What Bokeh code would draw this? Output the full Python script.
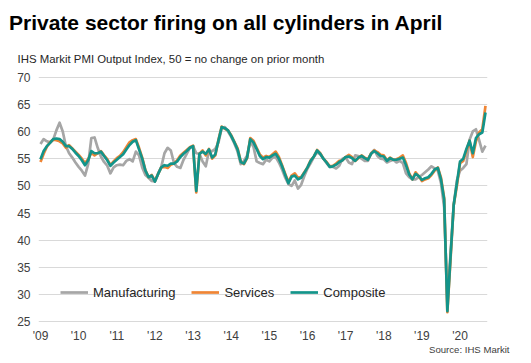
from bokeh.plotting import figure
from bokeh.models import (Range1d, FixedTicker, Title, Legend, LegendItem, ColumnDataSource)
from bokeh.embed import file_html
from bokeh.resources import INLINE

# Monthly PMI output index readings (first point aligned with the '09 tick)
composite = [54.9, 56.4, 57.3, 57.9, 58.6, 58.7, 58.6, 58.1, 57.3, 57.3,
             56.8, 56.1, 55.5, 54.7, 53.8, 54.7, 56.4, 56.0, 56.0, 56.3,
             55.5, 54.7, 53.7, 54.3, 54.8, 55.3, 55.8, 56.7, 57.5, 58.1,
             58.4, 56.7, 55.0, 52.8, 51.6, 51.9, 50.8, 52.2, 53.4, 53.8,
             53.7, 54.1, 54.1, 54.5, 55.3, 55.9, 56.4, 57.0, 57.3, 49.1,
             55.9, 56.3, 55.9, 56.7, 55.2, 55.8, 58.4, 60.8, 60.6, 60.2,
             59.2, 58.0, 56.7, 54.4, 54.1, 55.2, 58.6, 58.0, 56.8, 55.5,
             54.9, 55.3, 55.2, 55.6, 55.9, 55.0, 53.6, 52.0, 50.5, 51.7,
             51.9, 51.2, 51.5, 52.4, 53.4, 54.6, 55.4, 56.5, 55.9, 55.0,
             54.3, 53.5, 53.6, 53.9, 54.4, 54.7, 55.3, 55.4, 55.1, 54.6,
             55.2, 55.5, 55.1, 54.8, 55.9, 56.4, 56.0, 55.5, 55.4, 54.6,
             55.1, 54.8, 54.8, 55.0, 55.2, 53.8, 52.1, 51.2, 52.2, 51.8,
             51.1, 51.4, 51.6, 52.2, 53.0, 53.3, 51.2, 47.5, 27.0, 37.0,
             46.5, 50.5, 54.5, 55.0, 56.8, 58.3, 56.0, 58.8, 59.5, 59.8,
             63.5]

services = [54.4, 55.9, 57.2, 58.0, 58.5, 58.4, 58.2, 57.8, 57.0, 57.5,
            56.9, 56.3, 55.7, 55.0, 54.2, 54.9, 56.1, 55.6, 56.0, 56.4,
            55.6, 54.9, 53.8, 54.5, 55.1, 55.5, 56.2, 57.1, 58.0, 58.4,
            58.6, 57.0, 55.2, 52.9, 51.6, 52.0, 50.9, 52.2, 53.4, 53.5,
            53.3, 53.9, 54.1, 54.7, 55.6, 56.1, 56.6, 57.1, 57.4, 48.8,
            55.9, 56.5, 55.6, 56.8, 55.0, 55.6, 58.5, 60.9, 60.5, 60.2,
            59.3, 58.1, 56.9, 54.5, 54.0, 55.1, 58.8, 58.3, 57.0, 55.8,
            55.2, 55.5, 55.3, 55.8, 56.3, 55.3, 53.8, 52.2, 50.7, 51.9,
            52.3, 51.5, 51.6, 52.5, 53.4, 54.7, 55.4, 56.6, 56.0, 55.0,
            54.4, 53.6, 53.7, 54.1, 54.6, 54.7, 55.3, 55.7, 55.3, 54.6,
            55.1, 55.6, 55.2, 54.9, 55.9, 56.5, 56.2, 55.7, 55.6, 54.7,
            55.2, 54.8, 54.9, 55.2, 55.6, 54.2, 52.3, 51.2, 52.5, 51.8,
            50.9, 51.2, 51.4, 52.0, 52.8, 53.4, 51.5, 47.8, 26.8, 36.5,
            46.5, 50.0, 54.2, 54.6, 56.5, 58.3, 55.3, 58.2, 59.8, 60.4,
            64.7]

manufacturing = [57.7, 58.6, 58.2, 58.0, 58.5, 60.2, 61.6, 60.0, 57.3, 56.0,
                 55.2, 54.3, 53.5, 52.8, 51.9, 54.0, 58.8, 58.9, 57.0, 55.4,
                 54.4, 53.7, 52.3, 53.4, 53.8, 53.9, 53.8, 54.6, 54.9, 54.5,
                 56.3, 55.6, 53.4, 52.0, 51.5, 50.9, 50.8, 52.2, 53.5, 56.0,
                 57.0, 56.5, 54.2, 53.5, 53.3, 54.8, 55.9, 57.0, 57.3, 56.0,
                 55.9, 54.5, 53.6, 56.4, 56.4, 56.8, 58.0, 60.6, 60.8, 60.0,
                 59.0, 57.8, 56.3, 54.0, 54.6, 55.6, 58.2, 57.2, 54.5, 54.2,
                 54.0, 54.8, 54.5, 55.2, 55.3, 54.3, 53.0, 51.5, 50.3, 50.0,
                 51.0, 49.5, 50.2, 51.8, 53.2, 54.2, 55.3, 56.2, 55.8, 55.0,
                 54.2, 53.5, 53.5, 53.2, 53.7, 55.0, 55.2, 54.3, 54.0, 55.6,
                 55.5, 55.0, 54.6, 54.6, 56.0, 56.6, 55.5, 55.0, 54.9, 54.3,
                 54.6, 54.8, 54.3, 54.6, 54.2, 52.3, 51.6, 51.2, 51.2, 51.6,
                 52.0, 52.5, 53.0, 53.6, 53.2, 52.8, 50.5, 46.0, 28.5, 37.5,
                 46.5, 51.0, 52.8, 53.3, 54.0, 58.5, 60.0, 60.4, 58.4, 56.3,
                 57.4]

year_labels = ["'09", "'10", "'11", "'12", "'13", "'14", "'15", "'16", "'17", "'18", "'19", "'20"]
months_per_label = 12
y_ticks = [25, 30, 35, 40, 45, 50, 55, 60, 65, 70]

months = list(range(len(composite)))
src = ColumnDataSource(dict(m=months, comp=composite, serv=services, manu=manufacturing))

FONT = "Liberation Sans"
W, H = 531, 363

p = figure(width=W, height=H, output_backend="svg", toolbar_location=None,
           x_range=Range1d(-0.63, len(months) - 1 + 0.63),
           y_range=Range1d(24.9, 70.1),
           min_border_left=38, min_border_right=44, min_border_top=76, min_border_bottom=41)
p.outline_line_color = None
p.background_fill_color = "white"
p.border_fill_color = "white"

# axes
p.xaxis.ticker = FixedTicker(ticks=[i * months_per_label for i in range(len(year_labels))])
p.xaxis.major_label_overrides = {i * months_per_label: lab for i, lab in enumerate(year_labels)}
p.yaxis.ticker = FixedTicker(ticks=y_ticks)
for ax in (p.xaxis, p.yaxis):
    ax.axis_line_color = None
    ax.major_tick_line_color = None
    ax.minor_tick_line_color = None
    ax.major_tick_out = 0
    ax.major_tick_in = 0
    ax.minor_tick_out = 0
    ax.major_label_text_font = FONT
    ax.major_label_text_font_size = "12px"
    ax.major_label_text_color = "#404040"
p.xaxis.major_label_standoff = 6
p.yaxis.major_label_standoff = 8
p.xgrid.grid_line_color = None
p.ygrid.grid_line_color = "#d9d9d9"
p.ygrid.grid_line_width = 1

r_m = p.line("m", "manu", source=src, line_color="#a6a6a6", line_width=2.7, line_join="round")
r_s = p.line("m", "serv", source=src, line_color="#ef8535", line_width=2.7, line_join="round")
r_c = p.line("m", "comp", source=src, line_color="#13948a", line_width=2.7, line_join="round")

legend = Legend(items=[LegendItem(label="Manufacturing", renderers=[r_m]),
                       LegendItem(label="Services", renderers=[r_s]),
                       LegendItem(label="Composite", renderers=[r_c])],
                orientation="horizontal", location=(22, 22),
                background_fill_alpha=0, border_line_color=None,
                padding=0, margin=0, spacing=16,
                glyph_width=28, glyph_height=16, label_height=16,
                label_standoff=5, label_text_font=FONT, label_text_font_size="13px",
                label_text_color="#262626")
p.add_layout(legend, "center")

# titles outside the plot frame (first "above" title sits nearest the frame)
sub = Title(text="IHS Markit PMI Output Index, 50 = no change on prior month",
            text_font=FONT, text_font_size="11.4px", text_font_style="normal",
            text_color="#262626", align="left", offset=-21, standoff=24,
            vertical_align="bottom")
main = Title(text="Private sector firing on all cylinders in April",
             text_font=FONT, text_font_size="21px", text_font_style="bold",
             text_color="black", align="left", offset=-29.5, standoff=6,
             vertical_align="top")
p.add_layout(sub, "above")
p.add_layout(main, "above")
source = Title(text="Source: IHS Markit", text_font=FONT, text_font_size="9.6px",
               text_font_style="normal", text_color="#404040", align="right",
               offset=-22, standoff=-8)
p.add_layout(source, "below")

open("out.html", "w").write(file_html(p, INLINE))
